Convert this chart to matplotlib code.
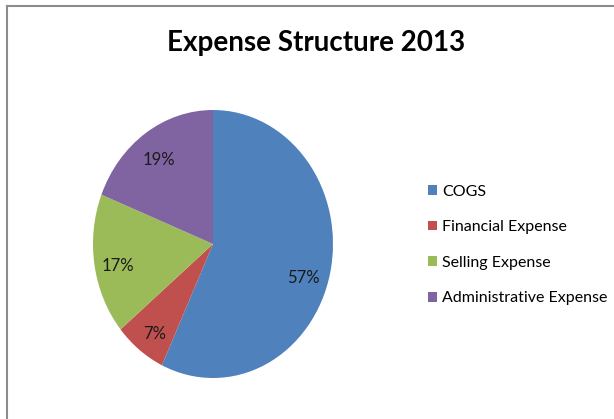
import matplotlib
matplotlib.use("Agg")
import matplotlib.pyplot as plt
from matplotlib.lines import Line2D
import matplotlib.transforms as mtransforms

categories = ["COGS", "Financial Expense", "Selling Expense", "Administrative Expense"]
values = [57, 7, 17, 19]
colors = ["#4F81BD", "#C0504D", "#9BBB59", "#8064A2"]
title = "Expense Structure 2013"

W, H = 614, 419
fig = plt.figure(figsize=(W / 100, H / 100), dpi=100)
plt.rcParams['font.family'] = ['Lato', 'DejaVu Sans']

# pie bounding box in pixels
cx, cy, rx, ry = 213, 244, 120, 134
pad = 1.05
ax = fig.add_axes([(cx - rx * pad) / W, (H - cy - ry * pad) / H, 2 * rx * pad / W, 2 * ry * pad / H])
wedges, texts, autotexts = ax.pie(values, colors=colors, startangle=90, counterclock=False,
                                  autopct='%1.0f%%', pctdistance=0.8,
                                  wedgeprops=dict(linewidth=0),
                                  textprops=dict(fontsize=12, color='#1a1a1a'))
ax.set_aspect('auto')
ax.set_xlim(-pad, pad)
ax.set_ylim(-pad, pad)
ax.axis('off')
shift = mtransforms.ScaledTranslation(0, -5 / 100, fig.dpi_scale_trans)
for t in autotexts:
    t.set_transform(t.get_transform() + shift)
autotexts[0].set_transform(autotexts[0].get_transform() + mtransforms.ScaledTranslation(-3 / 100, -6 / 100, fig.dpi_scale_trans))

fig.text(316 / W, 1 - 43 / H, title, ha='center', va='center', fontsize=20, fontweight='bold', color='black')

leg = fig.legend(wedges, categories, loc='center left', bbox_to_anchor=(428 / W, 1 - 245 / H),
                 frameon=False, fontsize=11.5, handlelength=0.55, handleheight=0.55,
                 handletextpad=0.35, labelspacing=1.35, borderaxespad=0, borderpad=0)

# chart border (top and left visible)
fig.add_artist(Line2D([6.5 / W, 1], [1 - 6.5 / H, 1 - 6.5 / H], color='#8c8c8c', lw=1.5, transform=fig.transFigure))
fig.add_artist(Line2D([6.5 / W, 6.5 / W], [0, 1 - 6.5 / H], color='#8c8c8c', lw=1.5, transform=fig.transFigure))

fig.savefig("out.png", dpi=100)
